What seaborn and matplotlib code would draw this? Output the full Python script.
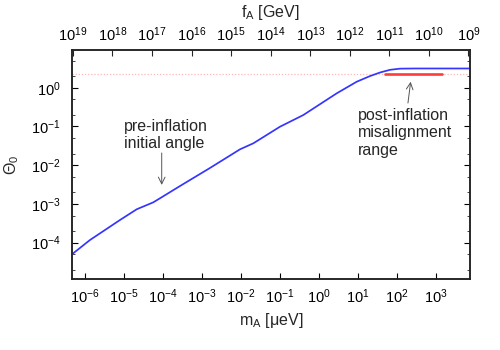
import numpy as np
import pandas as pd
import matplotlib
matplotlib.use("Agg")
import matplotlib.pyplot as plt
import matplotlib.ticker as mticker
import seaborn as sns

# ---- data ----
m_ueV = [4.65e-7, 1.34e-6, 7.9e-6, 2.12e-5, 5.64e-5, 9.27e-5, 2.73e-4, 1.60e-3,
         9.42e-3, 2.07e-2, 0.1, 0.395, 2.84, 9.27, 20.3, 36.6, 66.2, 119, 290, 7450]
theta0 = [5.02e-5, 1.17e-4, 3.85e-4, 7.28e-4, 1.10e-3, 1.49e-3, 2.90e-3, 8.47e-3,
          2.57e-2, 3.67e-2, 9.86e-2, 0.197, 0.716, 1.43, 2.00, 2.47, 2.90, 3.11, 3.14, 3.14]
post_theta = 2.2
post_range = [50, 1400]
ma_ticks = [1e-6, 1e-5, 1e-4, 1e-3, 1e-2, 1e-1, 1e0, 1e1, 1e2, 1e3]
theta_ticks = [1e-4, 1e-3, 1e-2, 1e-1, 1e0]
fa_ticks = [1e19, 1e18, 1e17, 1e16, 1e15, 1e14, 1e13, 1e12, 1e11, 1e10, 1e9]

df = pd.DataFrame({"m": m_ueV, "theta": theta0})

sns.set_theme(style="ticks")
plt.rcParams["font.family"] = ["Liberation Sans", "DejaVu Sans"]
plt.rcParams["mathtext.fontset"] = "dejavusans"

TICK_FS = 10.5
LAB_FS = 11.5

fig = plt.figure(figsize=(5, 3.5), dpi=100)
ax = fig.add_axes([0.1434, 0.203, 0.7966, 0.654])
ax.set_xscale("log")
ax.set_yscale("log")

ax.axhline(post_theta, color="#ffb8b8", lw=0.9, ls=(0, (1, 1.5)), zorder=1)
sns.lineplot(data=df, x="m", y="theta", ax=ax, color="#3535ff", lw=1.25,
             estimator=None, sort=True, zorder=3)
ax.plot(post_range, [post_theta, post_theta], color="#ff3b3b", lw=1.9, zorder=2)

ax.set_xlim(10**-6.341, 10**3.872)
ax.set_ylim(10**-4.937, 10**0.973)

ax.set_xticks(ma_ticks)
ax.xaxis.set_minor_locator(mticker.NullLocator())
ax.set_yticks(theta_ticks)
ax.yaxis.set_minor_locator(mticker.LogLocator(base=10, subs=[2, 5], numticks=20))
ax.yaxis.set_minor_formatter(mticker.NullFormatter())

ax.tick_params(axis="both", which="major", direction="in", length=4, width=0.8,
               color="black", labelsize=TICK_FS, labelcolor="black")
ax.tick_params(axis="y", which="both", right=True, direction="in")
ax.tick_params(axis="y", which="minor", length=2.2, width=0.6)
ax.tick_params(axis="x", which="major", pad=6, top=False)
ax.tick_params(axis="y", which="major", pad=8)
for s in ax.spines.values():
    s.set_linewidth(1.1)
    s.set_color("#222222")

ax.set_xlabel("m$_\\mathregular{A}$ [μeV]", fontsize=LAB_FS, labelpad=4)
ax.set_ylabel("Θ$_\\mathregular{0}$", fontsize=LAB_FS, labelpad=7)

ax2 = ax.twiny()
ax2.set_xscale("log")
ax2.set_xlim(10**19.03, 10**8.96)
ax2.set_xticks(fa_ticks)
ax2.xaxis.set_minor_locator(mticker.NullLocator())
ax2.tick_params(axis="x", which="major", direction="in", length=4, width=0.8,
                pad=4.5, labelsize=TICK_FS, labelcolor="black")
ax2.set_xlabel("f$_\\mathregular{A}$ [GeV]", fontsize=LAB_FS, labelpad=6)
for s in ax2.spines.values():
    s.set_linewidth(1.1)
    s.set_color("#222222")

ax.text(1.0e-5, 10**-1.22, "pre-inflation\ninitial angle", ha="left", va="center",
        fontsize=LAB_FS, linespacing=1.2)
ax.annotate("", xy=(9.27e-5, 3.1e-3), xytext=(9.27e-5, 2.07e-2),
            arrowprops=dict(arrowstyle="->", color="#555555", lw=0.7,
                            shrinkA=0, shrinkB=0))
ax.text(10.0, 10**-1.16, "post-inflation\nmisalignment\nrange", ha="left",
        va="center", fontsize=LAB_FS, linespacing=1.2)
ax.annotate("", xy=(224, 1.43), xytext=(191, 0.403),
            arrowprops=dict(arrowstyle="->", color="#555555", lw=0.7,
                            shrinkA=0, shrinkB=0))

fig.savefig("out.png", dpi=100)
